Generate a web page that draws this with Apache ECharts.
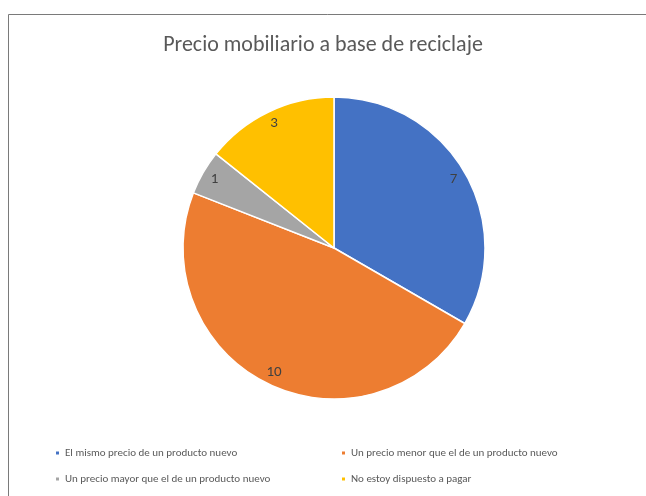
<!DOCTYPE html>
<html>
<head>
<meta charset="utf-8">
<script src="https://cdn.jsdelivr.net/npm/echarts@6/dist/echarts.min.js"></script>
<style>
  html, body { margin: 0; padding: 0; background: #fff; }
  #chart { width: 646px; height: 496px; }
</style>
</head>
<body>
<div id="chart"></div>
<script>
const categories = [
  'El mismo precio de un producto nuevo',
  'Un precio menor que el de un producto nuevo',
  'Un precio mayor que el de un producto nuevo',
  'No estoy dispuesto a pagar'
]
const values = [7, 10, 1, 3]
const colors = ['#4472C4', '#ED7D31', '#A5A5A5', '#FFC000']

const font = 'Carlito, "Liberation Sans Narrow", "Open Sans", sans-serif'
const pieData = categories.map((name, i) => ({ name, value: values[i], itemStyle: { color: colors[i] } }))

const chart = echarts.init(document.getElementById('chart'))
chart.setOption({
  animation: false,
  title: {
    text: 'Precio mobiliario a base de reciclaje',
    left: 'center',
    top: 29,
    textStyle: { fontFamily: font, fontSize: 22, fontWeight: 'normal', color: '#595959' }
  },
  legend: [
    {
      data: [categories[0], categories[2]],
      orient: 'vertical',
      left: 49,
      top: 441,
      icon: 'rect',
      itemWidth: 5,
      itemHeight: 5,
      itemGap: 12,
      textStyle: { fontFamily: font, fontSize: 11, lineHeight: 14, color: '#595959' }
    },
    {
      data: [categories[1], categories[3]],
      orient: 'vertical',
      left: 335,
      top: 441,
      icon: 'rect',
      itemWidth: 5,
      itemHeight: 5,
      itemGap: 12,
      textStyle: { fontFamily: font, fontSize: 11, lineHeight: 14, color: '#595959' }
    }
  ],
  graphic: [
    {
      type: 'polyline',
      shape: { points: [[8.5, 496], [8.5, 14.5], [646, 14.5]] },
      style: { fill: null, stroke: '#7a7a7a', lineWidth: 1 },
      silent: true
    }
  ],
  series: [
    {
      name: 'precio',
      type: 'pie',
      center: [334, 248],
      radius: [0, 151],
      startAngle: 90,
      clockwise: true,
      label: { show: false },
      labelLine: { show: false },
      itemStyle: { borderColor: '#fff', borderWidth: 1.5 },
      emphasis: { disabled: true },
      data: pieData
    },
    {
      name: 'etiquetas',
      type: 'pie',
      center: [334, 248],
      radius: [119, 151],
      startAngle: 90,
      clockwise: true,
      silent: true,
      legendHoverLink: false,
      itemStyle: { color: 'transparent', borderWidth: 0 },
      label: {
        show: true,
        position: 'inside',
        formatter: '{c}',
        fontFamily: font,
        fontSize: 15,
        color: '#404040'
      },
      labelLine: { show: false },
      data: values.map((v, i) => ({ name: 'l' + i, value: v }))
    }
  ]
})
</script>
</body>
</html>
